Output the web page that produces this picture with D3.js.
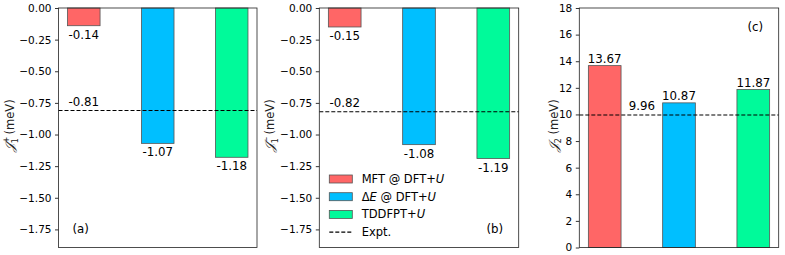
<!DOCTYPE html>
<html>
<head>
<meta charset="utf-8">
<script src="https://cdn.jsdelivr.net/npm/d3@7"></script>
<style>
  body { margin: 0; background: #fff; }
  svg { font-family: 'DejaVu Sans', sans-serif; }
</style>
</head>
<body>
<div id="chart"></div>
<script>
// Dados
const methods = ['MFT @ DFT+U', 'ΔE @ DFT+U', 'TDDFPT+U'];
const colorsBar = ['#ff6666', '#00bfff', '#00fa9a'];
const j1Plus = [-0.14, -1.07, -1.18];
const j1Minus = [-0.15, -1.08, -1.19];
const j2 = [13.67, 10.87, 11.87];
const expt = [-0.81, -0.82, 9.96];
const ticksJ1 = [0, -0.25, -0.5, -0.75, -1.0, -1.25, -1.5, -1.75];
const ticksJ2 = [0, 2, 4, 6, 8, 10, 12, 14, 16, 18];

const W = 785, H = 255;
const plotTop = 8, plotBottom = 247.5;
const barW = 0.44;
const xPad = barW / 2 + 0.05 * (2 + barW);

const svg = d3.select('#chart').append('svg')
    .attr('width', W)
    .attr('height', H);

function drawPanel(opt) {
    const g = svg.append('g');
    const x = d3.scaleLinear()
        .domain([-xPad, 2 + xPad])
        .range([opt.left, opt.right]);
    const y = d3.scaleLinear()
        .domain(opt.domain)
        .range([plotBottom, plotTop]);

    // Eixo Y
    const yAxis = g.append('g')
        .attr('transform', `translate(${opt.left},0)`)
        .call(d3.axisLeft(y).tickValues(opt.ticks).tickSize(3.5).tickPadding(3.5)
            .tickFormat(d => opt.fmt(d).replace('-', '\u2212')));
    yAxis.select('.domain').remove();
    yAxis.selectAll('line').attr('stroke', '#000').attr('stroke-width', 0.8);
    yAxis.selectAll('text').attr('font-size', 10.5).attr('fill', '#000')
        .attr('font-family', 'DejaVu Sans');

    // Barras
    g.selectAll('rect.bar')
        .data(opt.values)
        .enter().append('rect')
        .attr('class', 'bar')
        .attr('x', (d, i) => x(i - barW / 2))
        .attr('width', x(barW) - x(0))
        .attr('y', d => Math.min(y(d), y(0)))
        .attr('height', d => Math.abs(y(d) - y(0)))
        .attr('fill', (d, i) => colorsBar[i])
        .attr('stroke', '#555')
        .attr('stroke-width', 0.8);

    // Rótulos dos valores
    g.selectAll('text.val')
        .data(opt.values)
        .enter().append('text')
        .attr('class', 'val')
        .attr('x', (d, i) => x(i))
        .attr('y', d => d < 0 ? y(d) + 13 : y(d) - 3)
        .attr('text-anchor', 'middle')
        .attr('font-size', 11.8)
        .text(d => d.toFixed(2));

    // Linha experimental
    g.append('line')
        .attr('x1', opt.left).attr('x2', opt.right)
        .attr('y1', y(opt.expt)).attr('y2', y(opt.expt))
        .attr('stroke', '#000')
        .attr('stroke-width', 1.1)
        .attr('stroke-dasharray', '4,2');

    g.append('text')
        .attr('x', x(opt.exptX))
        .attr('y', y(opt.expt) - 4.5)
        .attr('text-anchor', 'middle')
        .attr('font-size', 11.8)
        .text(opt.expt.toFixed(2));

    // Moldura
    g.append('rect')
        .attr('x', opt.left).attr('y', plotTop)
        .attr('width', opt.right - opt.left).attr('height', plotBottom - plotTop)
        .attr('fill', 'none')
        .attr('stroke', '#222')
        .attr('stroke-width', 0.8);

    // Rótulo do painel
    g.append('text')
        .attr('x', opt.tagX).attr('y', opt.tagY)
        .attr('font-size', 11.8)
        .text(opt.tag);

    // Título do eixo
    const lab = g.append('text')
        .attr('transform', `translate(${opt.labelX},${(plotTop + plotBottom) / 2 - 2}) rotate(-90)`)
        .attr('text-anchor', 'middle')
        .attr('font-size', 11.5)
        .attr('fill', '#222');
    lab.append('tspan').attr('font-family', 'DejaVu Serif').attr('font-style', 'italic')
        .attr('font-size', 13).text('𝒥');
    if (opt.sup) {
        const sp = lab.append('tspan').attr('font-size', 8).attr('dy', -5).text(opt.sup);
        const wSup = sp.node().getComputedTextLength();
        lab.append('tspan').attr('font-size', 8).attr('dx', -wSup).attr('dy', 8.5).text(opt.sub);
        lab.append('tspan').attr('dy', -3.5).text(' (meV)');
    } else {
        lab.append('tspan').attr('font-size', 8).attr('dy', 3).text(opt.sub);
        lab.append('tspan').attr('dy', -3).text(' (meV)');
    }
}

const fmt2 = d3.format('.2f');
const fmt0 = d3.format('d');

drawPanel({ left: 58.5, right: 257, domain: [-1.893, 0], ticks: ticksJ1, fmt: fmt2,
    values: j1Plus, expt: expt[0], exptX: 0, tag: '(a)', tagX: 72.5, tagY: 233,
    labelX: 14, sup: '+', sub: '1' });
drawPanel({ left: 319.3, right: 518.7, domain: [-1.893, 0], ticks: ticksJ1, fmt: fmt2,
    values: j1Minus, expt: expt[1], exptX: 0, tag: '(b)', tagX: 486.5, tagY: 233,
    labelX: 274, sup: '\u2212', sub: '1' });
drawPanel({ left: 579.3, right: 778.7, domain: [0, 18], ticks: ticksJ2, fmt: fmt0,
    values: j2, expt: expt[2], exptX: 0.5, tag: '(c)', tagX: 747.5, tagY: 31,
    labelX: 558, sub: '2' });

// Legenda
const legend = svg.append('g')
    .attr('transform', 'translate(329.3,179)');
methods.forEach((m, i) => {
    const lg = legend.append('g').attr('transform', `translate(0,${i * 17.7})`);
    lg.append('rect')
        .attr('x', 0).attr('y', -4)
        .attr('width', 23).attr('height', 8)
        .attr('fill', colorsBar[i])
        .attr('stroke', '#555').attr('stroke-width', 0.8);
    const t = lg.append('text').attr('x', 32.4).attr('y', 4).attr('font-size', 11.5);
    const parts = m.split('U');
    if (m.startsWith('ΔE')) {
        t.append('tspan').text('Δ');
        t.append('tspan').attr('font-style', 'italic').text('E');
        t.append('tspan').text(' @ DFT+');
    } else {
        t.append('tspan').text(parts[0]);
    }
    t.append('tspan').attr('font-style', 'italic').text('U');
});
const le = legend.append('g').attr('transform', `translate(0,${3 * 17.7})`);
le.append('line')
    .attr('x1', 0).attr('x2', 23).attr('y1', 0).attr('y2', 0)
    .attr('stroke', '#000').attr('stroke-width', 1.3)
    .attr('stroke-dasharray', '4,2');
le.append('text').attr('x', 32.4).attr('y', 4).attr('font-size', 11.5).text('Expt.');
</script>
</body>
</html>
